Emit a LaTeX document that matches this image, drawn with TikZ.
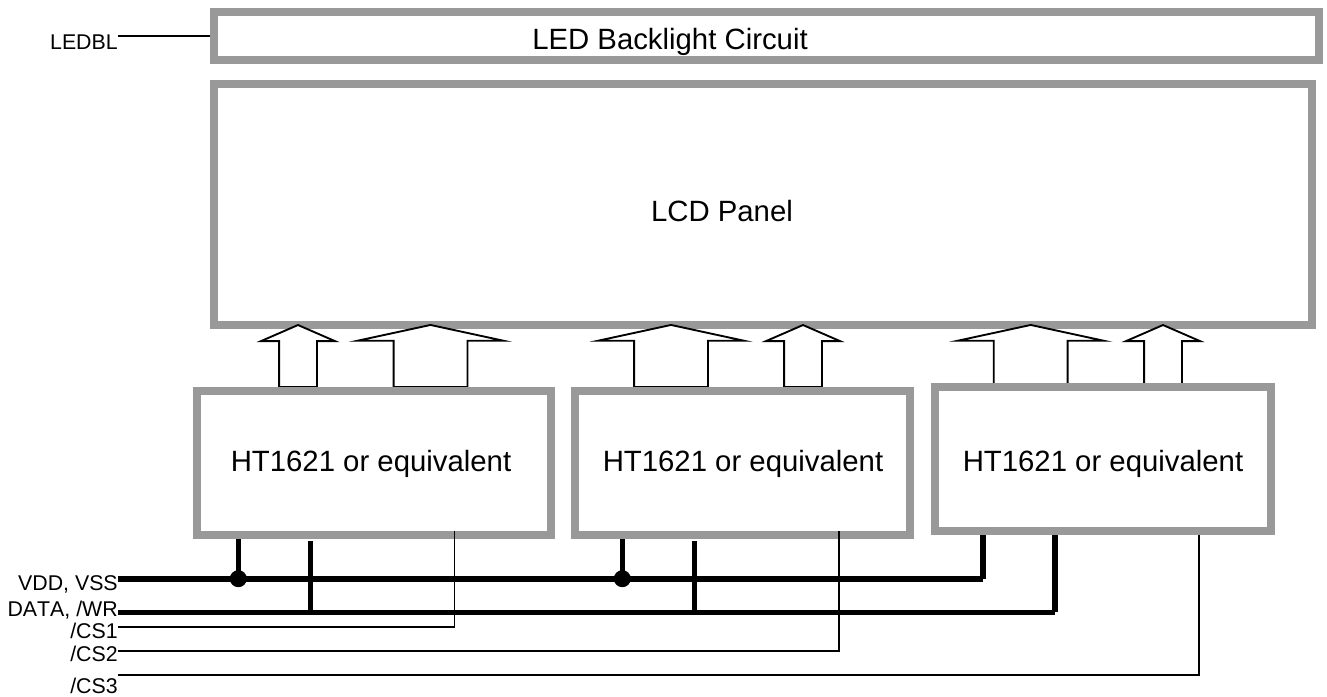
\documentclass[tikz,border=0pt]{standalone}
\usepackage{fontspec}
\setmainfont[Kerning=Off]{Liberation Sans}
\usepackage{xcolor}
\usetikzlibrary{calc,shapes.arrows}
\definecolor{boxgray}{HTML}{999999}
\definecolor{inkblack}{HTML}{000000}
\tikzset{
  every node/.style={font=\fontsize{22}{26}\selectfont, text=inkblack},
  block/.style={draw=boxgray, line width=6pt, rectangle, inner sep=0pt, fill=white},
  title/.style={anchor=base, inner sep=0pt},
  lbl/.style={font=\fontsize{16}{19}\selectfont, anchor=base east, inner sep=0pt},
  busnarrow/.style={draw=inkblack, fill=white, single arrow, rotate=90, anchor=tip, line width=1.4pt,
    inner xsep=0pt, inner ysep=13.5pt, minimum height=46.5pt,
    single arrow head extend=13.6pt, single arrow tip angle=133},
  buswide/.style={draw=inkblack, fill=white, single arrow, rotate=90, anchor=tip, line width=1.4pt,
    inner xsep=0pt, inner ysep=27pt, minimum height=46.5pt,
    single arrow head extend=27.2pt, single arrow tip angle=155.6},
  power/.style={draw=inkblack, line width=4.2pt},
  signal/.style={draw=inkblack, line width=1.2pt},
  dot/.style={circle, fill=inkblack, inner sep=0pt, minimum size=12.75pt},
}
\begin{document}
\begin{tikzpicture}[x=0.75pt,y=-0.75pt]
  \useasboundingbox (0,0) rectangle (1327,696);

  % top blocks
  \node[block, minimum width=828.75pt, minimum height=36pt] (led) at (766.5,36) {};
  \node[title] (ledtxt) at (670,49) {LED Backlight Circuit};
  \node[block, minimum width=823.25pt, minimum height=180.4pt] (lcd) at (762.85,204.25) {};
  \node[title] (lcdtxt) at (722,221.7) {LCD Panel};

  % hollow bus arrows
  \node[busnarrow] (a1) at (298,324) {};
  \node[buswide] (a2) at (430.5,324) {};
  \node[buswide] (a3) at (671,324) {};
  \node[busnarrow] (a4) at (803,324) {};
  \node[buswide] (a5) at (1030.7,324) {};
  \node[busnarrow] (a6) at (1163,324) {};

  % driver blocks
  \node[block, minimum width=265pt, minimum height=108pt] (ht1) at (374,462.5) {};
  \node[block, minimum width=251.6pt, minimum height=108pt] (ht2) at (742.75,462.5) {};
  \node[block, minimum width=252pt, minimum height=108pt] (ht3) at (1103,458.5) {};
  \node[title] (ht1txt) at (371,471.7) {HT1621 or equivalent};
  \node[title] (ht2txt) at (743,471.7) {HT1621 or equivalent};
  \node[title] (ht3txt) at (1103,471.7) {HT1621 or equivalent};

  % left labels
  \node[lbl] (ledbl) at (118,49) {LEDBL};
  \node[lbl] (vdd) at (118,590) {VDD, VSS};
  \node[lbl] (data) at (118,616) {DATA, /WR};
  \node[lbl] (cs1) at (118,638) {/CS1};
  \node[lbl] (cs2) at (118,661.7) {/CS2};
  \node[lbl] (cs3) at (118,693) {/CS3};

  % line start points
  \coordinate (ledbls) at (118,36);
  \coordinate (vdds) at (118,578.7);
  \coordinate (datas) at (118,612.3);
  \coordinate (cs1s) at (118,626.7);
  \coordinate (cs2s) at (118,651);
  \coordinate (cs3s) at (118,674.7);

  % branch points on the buses
  \coordinate (v1) at (238.3,578.7);
  \coordinate (v2) at (622.3,578.7);
  \coordinate (v3) at (982.7,578.7);
  \coordinate (d1) at (310.3,612.3);
  \coordinate (d2) at (694.3,612.3);
  \coordinate (d3) at (1054.7,612.3);

  \draw[signal] (ledbls) -- (ledbls -| led.west);

  % power and data
  \draw[power] (vdds) -- (v3);
  \draw[power] (datas) -- (d3);
  \draw[power] (v1) -- (v1 |- ht1.south);
  \draw[power] (v2) -- (v2 |- ht2.south);
  \draw[power] (v3) -- (v3 |- ht3.south);
  \draw[power, shorten >=1.8pt] (d1) -- (d1 |- ht1.south);
  \draw[power, shorten >=1.8pt] (d2) -- (d2 |- ht2.south);
  \draw[power] (d3) -- (d3 |- ht3.south);
  \node[dot] (j1) at (v1) {};
  \node[dot] (j2) at (v2) {};

  % chip selects
  \coordinate (c1) at (454.3,626.7);
  \coordinate (c2) at (838.7,651);
  \coordinate (c3) at (1198.7,674.7);
  \draw[signal] (cs1s) -- (c1) -- ($(c1 |- ht1.south)+(0,-8)$);
  \draw[signal] (cs2s) -- (c2) -- ($(c2 |- ht2.south)+(0,-8)$);
  \draw[signal] (cs3s) -- (c3) -- (c3 |- ht3.south);
\end{tikzpicture}
\end{document}
